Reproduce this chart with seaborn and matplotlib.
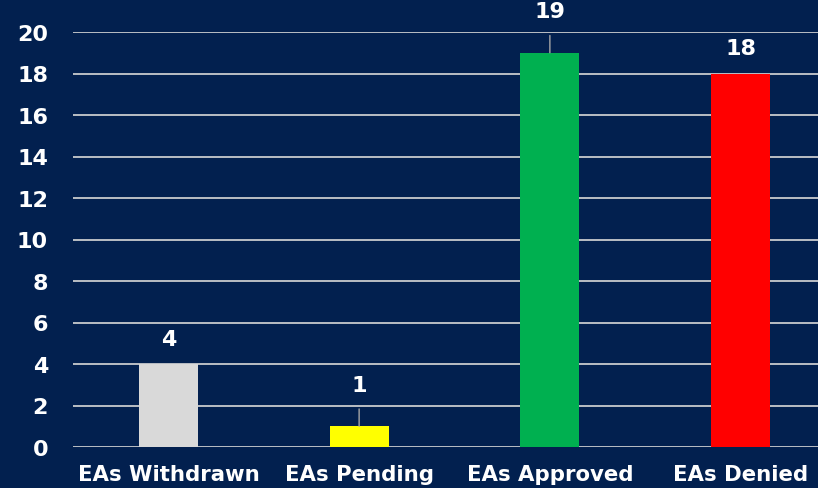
import numpy as np
import pandas as pd
import matplotlib
matplotlib.use('Agg')
import matplotlib.pyplot as plt
import seaborn as sns

# chart data
categories = ['EAs Withdrawn', 'EAs Pending', 'EAs Approved', 'EAs Denied']
counts = [4, 1, 19, 18]
bar_colors = ['#D9D9D9', '#FFFF00', '#00B050', '#FF0000']
y_ticks = [0, 2, 4, 6, 8, 10, 12, 14, 16, 18, 20]

bg = '#02204F'

sns.set_style('white')
plt.rcParams['font.family'] = ['DejaVu Sans']

df = pd.DataFrame({'status': categories, 'count': counts})

fig = plt.figure(figsize=(8.18, 4.89), dpi=100, facecolor=bg)
W, H = 818, 489
ax = fig.add_axes([73 / W, 41 / H, (836 - 73) / W, (448 - 33) / H])
ax.set_facecolor(bg)

# gridlines behind the bars
for t in y_ticks:
    ax.axhline(t, color='#D9D9D9', lw=1.2, zorder=0)

sns.barplot(data=df, x='status', y='count', hue='status', palette=bar_colors,
            legend=False, width=0.31, saturation=1, linewidth=0,
            edgecolor='none', ax=ax)
for p in ax.patches:
    p.set_zorder(3)

ax.set_ylim(0, 20)
ax.set_xlim(-0.5, 3.5)
ax.set_yticks(y_ticks)
ax.grid(False)
for s in ax.spines.values():
    s.set_visible(False)
ax.set_xlabel('')
ax.set_ylabel('')
ax.tick_params(axis='y', length=0, pad=18, labelsize=16, labelcolor='white')
ax.tick_params(axis='x', length=0, pad=12, labelsize=15.3, labelcolor='white')
for lbl in ax.get_xticklabels() + ax.get_yticklabels():
    lbl.set_fontweight('bold')

# value labels, with leader lines where the label sits further up
for i, v in enumerate(counts):
    if v in (1, 19):
        ax.annotate(str(v), xy=(i, v), xytext=(0, 30), textcoords='offset points',
                    ha='center', va='center', color='white', fontsize=16,
                    fontweight='bold', annotation_clip=False,
                    arrowprops=dict(arrowstyle='-', color='#A6A6A6', lw=1,
                                    shrinkA=8, shrinkB=0))
    else:
        ax.annotate(str(v), xy=(i, v), xytext=(0, 18), textcoords='offset points',
                    ha='center', va='center', color='white', fontsize=16,
                    fontweight='bold', annotation_clip=False)

fig.savefig('out.png', dpi=100, facecolor=bg)
